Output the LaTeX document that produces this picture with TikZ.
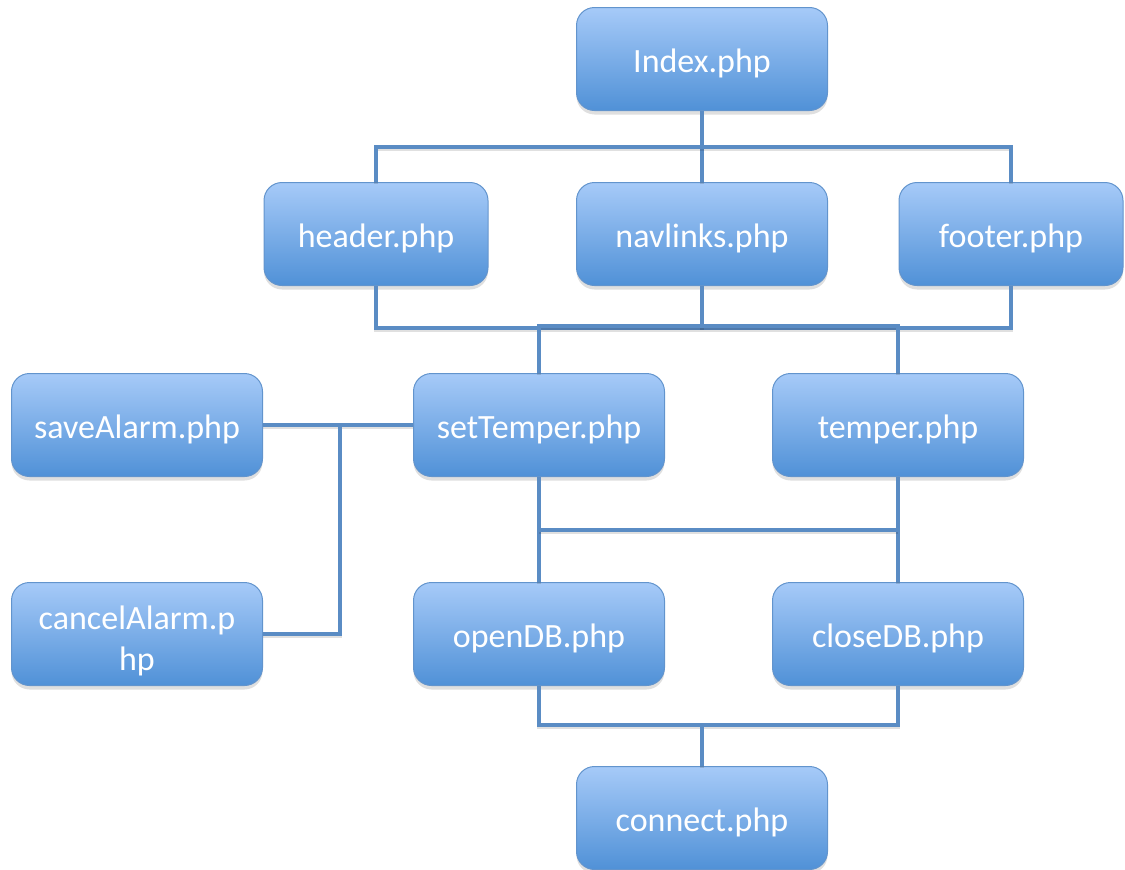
\documentclass[tikz,border=0pt]{standalone}
\usepackage{fontspec}
\setmainfont{Carlito}
\usetikzlibrary{shadows}
\definecolor{boxtop}{RGB}{166,202,248}
\definecolor{boxbot}{RGB}{80,145,215}
\definecolor{boxline}{RGB}{98,148,205}
\definecolor{wirecol}{RGB}{90,140,196}
\tikzset{
  filebox/.style={rectangle, rounded corners=18pt, draw=boxline, line width=1pt,
    top color=boxtop, bottom color=boxbot, minimum width=251pt, minimum height=103pt,
    inner sep=0pt, text=white, align=center, text height=30pt, text depth=4pt,
    font=\fontsize{34}{41}\selectfont,
    drop shadow={opacity=0.25, shadow xshift=0pt, shadow yshift=-4pt}},
  narrowbox/.style={filebox, minimum width=224pt},
  twoline/.style={filebox, text height={}, text depth={}},
  wire/.style={draw=wirecol, line width=3.6pt,
    preaction={draw=black, opacity=0.12, line width=3.6pt, transform canvas={yshift=-2pt}}}
}
\begin{document}
\begin{tikzpicture}[x=1pt,y=-1pt]
\useasboundingbox (0,0) rectangle (1125,870);
% file nodes
\node[filebox]   (idx)  at (702,59)  {Index.php};
\node[narrowbox] (hdr)  at (376,234) {header.php};
\node[filebox]   (nav)  at (702,234) {navlinks.php};
\node[narrowbox] (ftr)  at (1011,234) {footer.php};
\node[filebox]   (save) at (137,425) {saveAlarm.php};
\node[filebox]   (set)  at (539,425) {setTemper.php};
\node[filebox]   (tmp)  at (898,425) {temper.php};
\node[twoline]   (cncl) at (137,634) {\rule{0pt}{37pt}cancelAlarm.p\\hp};
\node[filebox]   (open) at (539,634) {openDB.php};
\node[filebox]   (close) at (898,634) {closeDB.php};
\node[filebox]   (conn) at (702,818) {connect.php};
% junction points of the buses
\coordinate (busA) at (702,147);
\coordinate (busB) at (702,328);
\coordinate (busC) at (702,530);
\coordinate (busD) at (702,725);
\coordinate (busE) at (340,425);
% Index -> header / navlinks / footer
\draw[wire] (idx.south) -- (nav.north);
\draw[wire] (hdr.north) -- (hdr.north |- busA) -- (ftr.north |- busA) -- (ftr.north);
% header / navlinks / footer -> setTemper / temper
\draw[wire] (hdr.south) -- (hdr.south |- busB) -- (ftr.south |- busB) -- (ftr.south);
\draw[wire] (nav.south) -- (busB);
\draw[wire] (set.north) -- ([yshift=2pt]set.north |- busB) -- ([yshift=2pt]tmp.north |- busB) -- (tmp.north);
% alarms -> setTemper
\draw[wire] (save.east) -- (set.west);
\draw[wire] (busE) -- (busE |- cncl.east) -- (cncl.east);
% setTemper / temper -> openDB / closeDB
\draw[wire] (set.south) -- (open.north);
\draw[wire] (tmp.south) -- (close.north);
\draw[wire] (set.south |- busC) -- (tmp.south |- busC);
% openDB / closeDB -> connect
\draw[wire] (open.south) -- (open.south |- busD) -- (close.south |- busD) -- (close.south);
\draw[wire] (busD) -- (conn.north);
\end{tikzpicture}
\end{document}
